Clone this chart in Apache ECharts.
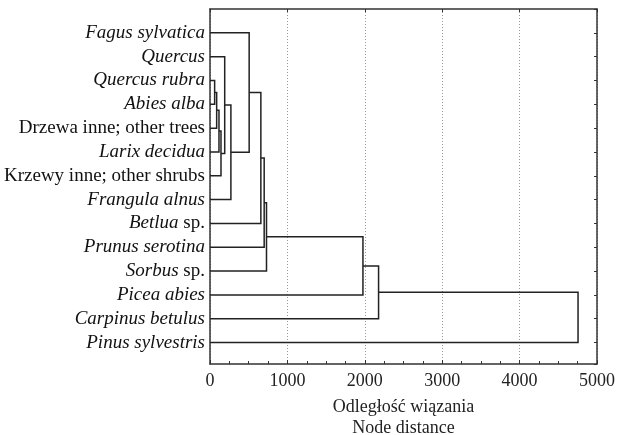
<!DOCTYPE html>
<html>
<head>
<meta charset="utf-8">
<script src="https://cdn.jsdelivr.net/npm/echarts@6/dist/echarts.min.js"></script>
<style>html,body{margin:0;padding:0;background:#fff}#c{width:617px;height:435px}</style>
</head>
<body>
<div id="c"></div>
<script>
// Leaves, top to bottom
const leafNames = ['Fagus sylvatica','Quercus','Quercus rubra','Abies alba','Drzewa inne; other trees','Larix decidua','Krzewy inne; other shrubs','Frangula alnus','Betlua sp.','Prunus serotina','Sorbus sp.','Picea abies','Carpinus betulus','Pinus sylvestris'];
// Merge steps (children: 0..13 leaves, 14+ earlier merges)
const mergeA = [2, 14, 15, 16, 1, 18, 0, 20, 21, 22, 23, 24, 25];
const mergeB = [3, 4, 5, 6, 17, 7, 19, 8, 9, 10, 11, 12, 13];
const mergeHeight = [60, 86, 116, 142, 190, 270, 506, 657, 700, 730, 1976, 2178, 4755];
const xTicks = [0, 1000, 2000, 3000, 4000, 5000];

const nLeaf = leafNames.length;
const nodeY = [], nodeH = [];
for (let i = 0; i < nLeaf; i++) { nodeY[i] = i; nodeH[i] = 0; }
const segs = [];
mergeA.forEach((a, k) => {
  const b = mergeB[k], h = mergeHeight[k];
  segs.push([nodeH[a], nodeY[a], nodeH[b], nodeY[b], h]);
  nodeY[nLeaf + k] = (nodeY[a] + nodeY[b]) / 2;
  nodeH[nLeaf + k] = h;
});

const italicPart = {'Betlua sp.': 'Betlua', 'Sorbus sp.': 'Sorbus'};
const upright = ['Drzewa inne; other trees', 'Krzewy inne; other shrubs'];
function fmtLeaf(v) {
  if (Math.abs(v - Math.round(v)) > 1e-6) return '';
  const name = leafNames[Math.round(v)];
  if (name === undefined) return '';
  if (upright.includes(name)) return '{n|' + name + '}';
  if (italicPart[name]) return '{i|' + italicPart[name] + '}{n| sp.}';
  return '{i|' + name + '}';
}

const FONT = '"Liberation Serif", "Times New Roman", serif';
const chart = echarts.init(document.getElementById('c'), null, {renderer: 'canvas'});
chart.setOption({
  animation: false,
  backgroundColor: '#fff',
  grid: {left: 210, right: 20, top: 9, bottom: 71, containLabel: false, outerBoundsMode: 'none'},
  xAxis: [{
    type: 'value', min: 0, max: 5000, interval: 1000, position: 'bottom',
    name: 'Odległość wiązania\nNode distance', nameLocation: 'middle', nameGap: 33,
    nameTextStyle: {fontFamily: FONT, fontSize: 18, color: '#222', lineHeight: 21, verticalAlign: 'top'},
    axisLine: {show: true, onZero: false, lineStyle: {color: '#333', width: 1.5}},
    axisTick: {show: true, inside: true, length: 4, lineStyle: {color: '#333'}},
    axisLabel: {fontFamily: FONT, fontSize: 18, color: '#222', margin: 8, formatter: v => xTicks.includes(v) ? String(v) : ''},
    splitLine: {show: true, lineStyle: {color: '#999', type: [1, 2], width: 1}}
  }, {
    type: 'value', min: 0, max: 5000, interval: 1000, position: 'top',
    axisLine: {show: true, onZero: false, lineStyle: {color: '#333', width: 1.5}},
    axisTick: {show: true, inside: true, length: 3, lineStyle: {color: '#333'}},
    axisLabel: {show: false}, splitLine: {show: false}
  }, {
    type: 'value', min: 0, max: 5000, interval: 250, position: 'bottom',
    axisLine: {show: false, onZero: false},
    axisTick: {show: true, inside: true, length: 3, lineStyle: {color: '#333'}},
    axisLabel: {show: false}, splitLine: {show: false}
  }],
  yAxis: [{
    type: 'value', min: -1, max: 13.9, interval: 1, inverse: true, position: 'left',
    axisLine: {show: true, onZero: false, lineStyle: {color: '#333', width: 1.5}},
    axisTick: {show: false},
    splitLine: {show: false},
    axisLabel: {
      margin: 5, color: '#111', formatter: fmtLeaf, showMaxLabel: false,
      rich: {
        i: {fontFamily: FONT, fontSize: 19, fontStyle: 'italic', color: '#111'},
        n: {fontFamily: FONT, fontSize: 19, color: '#111'}
      }
    }
  }, {
    type: 'value', min: -1, max: 13.9, interval: 1, inverse: true, position: 'right',
    axisLine: {show: true, onZero: false, lineStyle: {color: '#333', width: 1.5}},
    axisTick: {show: true, inside: true, length: 3, lineStyle: {color: '#333'}},
    axisLabel: {show: false}, splitLine: {show: false}
  }],
  series: [{
    type: 'custom',
    xAxisIndex: 0, yAxisIndex: 0,
    data: segs,
    encode: {x: [0, 2, 4], y: [1, 3]},
    renderItem: function (params, api) {
      const xa = api.value(0), ya = api.value(1), xb = api.value(2), yb = api.value(3), h = api.value(4);
      const pts = [api.coord([xa, ya]), api.coord([h, ya]), api.coord([h, yb]), api.coord([xb, yb])];
      return {type: 'polyline', shape: {points: pts}, style: {stroke: '#222', lineWidth: 1.5, fill: null}};
    }
  }]
});
</script>
</body>
</html>
